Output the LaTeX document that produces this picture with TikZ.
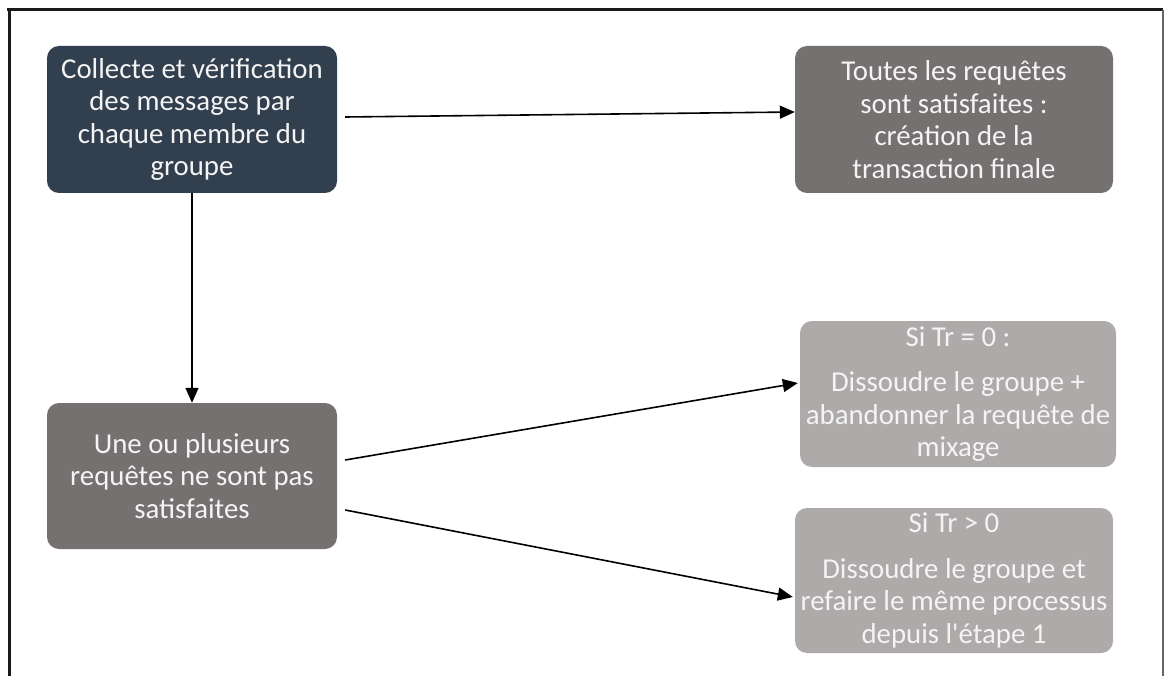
\documentclass[tikz,border=0pt]{standalone}
\usepackage{fontspec}
\setmainfont{Carlito}
\usetikzlibrary{arrows.meta}

\definecolor{navy}{HTML}{323F4F}
\definecolor{darkgrey}{HTML}{767171}
\definecolor{lightgrey}{HTML}{AEAAAA}
\definecolor{boxtext}{HTML}{F4F4F4}
\definecolor{framedark}{HTML}{1A1A1A}

\tikzset{
  stepbox/.style={rounded corners=12pt, inner sep=0pt, align=center,
    text=boxtext, font=\fontsize{28.8}{32.5}\selectfont},
  flow/.style={line width=1.6pt, draw=black,
    -{Triangle[length=15pt,width=13pt]}},
}

\begin{document}
\begin{tikzpicture}[x=1pt,y=-1pt]
  \useasboundingbox (0,0) rectangle (1166,676);
  \fill[white] (0,0) rectangle (1166,676);

  % outer frame (open at the bottom)
  \draw[framedark, line width=3pt] (7,10) -- (1163,10);
  \draw[framedark, line width=3pt] (9,10) -- (9,676);
  \draw[black!60, line width=1.4pt] (1163,10) -- (1163,676);

  % boxes
  \node[stepbox, fill=navy, minimum width=290pt, minimum height=147pt]
    (collect) at (192,119.5)
    {Collecte et vérification\\des messages par\\chaque membre du\\groupe};
  \node[stepbox, fill=darkgrey, minimum width=318pt, minimum height=147pt]
    (allok) at (954,119.5)
    {Toutes les requêtes\\sont satisfaites :\\création de la\\transaction finale};
  \node[stepbox, fill=darkgrey, minimum width=290pt, minimum height=146pt]
    (notok) at (192,476)
    {Une ou plusieurs\\requêtes ne sont pas\\satisfaites};
  \node[stepbox, fill=lightgrey, minimum width=316pt, minimum height=146pt]
    (trzero) at (958,394)
    {Si Tr = 0 :\\[13pt]Dissoudre le groupe +\\abandonner la requête de\\mixage};
  \node[stepbox, fill=lightgrey, minimum width=318pt, minimum height=145pt]
    (trpos) at (954,580.5)
    {Si Tr > 0\\[13pt]Dissoudre le groupe et\\refaire le même processus\\depuis l\textquotesingle étape 1};

  % connectors
  \draw[flow] ([xshift=8pt,yshift=2.5pt]collect.east) -- ([yshift=7.5pt]allok.west);
  \draw[flow] (collect.south) -- (notok.north);
  \draw[flow] ([xshift=8pt,yshift=16pt]notok.east) -- ([xshift=-2pt,yshift=11pt]trzero.west);
  \draw[flow] ([xshift=8pt,yshift=-34pt]notok.east) -- ([xshift=-2pt,yshift=-16.5pt]trpos.west);
\end{tikzpicture}
\end{document}
